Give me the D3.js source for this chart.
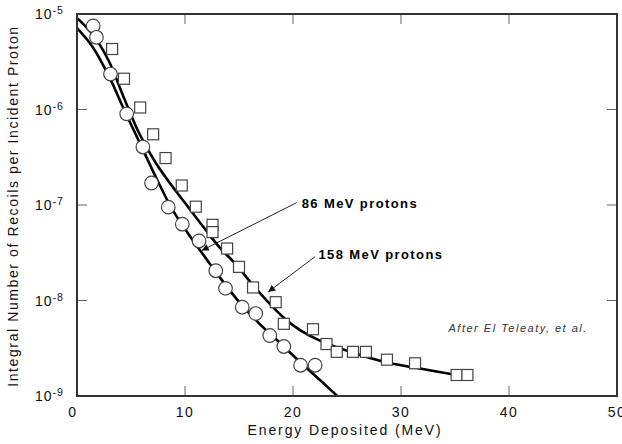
<!DOCTYPE html>
<html><head><meta charset="utf-8">
<script src="https://cdn.jsdelivr.net/npm/d3@7"></script>
<style>body{margin:0;background:#fff} text{font-family:"Liberation Sans",Arial,sans-serif}</style>
</head><body><svg id="c" width="622" height="444"></svg>
<script>
// ---- data ----
const xTicks = [0, 10, 20, 30, 40, 50];
const yTickExps = [-5, -6, -7, -8, -9];

// 86 MeV protons (circles)
const circE = [1.5, 1.8, 3.1, 4.6, 6.1, 6.9, 8.45, 9.75, 11.3, 12.85, 13.75, 15.3, 16.55, 17.85, 19.15, 20.7, 22.05];
const circN = [7.5e-6, 5.7e-6, 2.35e-6, 9.0e-7, 4.05e-7, 1.7e-7, 9.5e-8, 6.3e-8, 4.2e-8, 2.05e-8, 1.34e-8, 8.5e-9, 7.3e-9, 4.3e-9, 3.3e-9, 2.1e-9, 2.1e-9];

// 158 MeV protons (squares)
const sqE = [3.25, 4.35, 5.85, 7.05, 8.2, 9.7, 11.0, 12.55, 12.55, 13.9, 15.0, 16.3, 18.4, 19.15, 21.85, 23.1, 24.05, 25.55, 26.75, 28.7, 31.3, 35.15, 36.15];
const sqN = [4.3e-6, 2.1e-6, 1.05e-6, 5.5e-7, 3.1e-7, 1.6e-7, 9.6e-8, 6.2e-8, 5.2e-8, 3.5e-8, 2.25e-8, 1.37e-8, 9.6e-9, 5.7e-9, 5.0e-9, 3.5e-9, 2.9e-9, 2.9e-9, 2.9e-9, 2.4e-9, 2.2e-9, 1.66e-9, 1.66e-9];

// fitted curves
const c86E = [0, 1.4, 2.9, 4.35, 5.8, 7.3, 8.8, 10.3, 11.8, 13.2, 15.1, 16.9, 18.8, 20.65, 22.5, 24.1];
const c86N = [7.1e-6, 4.6e-6, 2.3e-6, 1.0e-6, 4.5e-7, 1.96e-7, 9.1e-8, 5.0e-8, 2.9e-8, 1.76e-8, 9.4e-9, 5.7e-9, 3.6e-9, 2.27e-9, 1.47e-9, 1.0e-9];
const c158E = [0, 1.4, 2.9, 4.35, 5.8, 7.3, 8.8, 10.3, 11.8, 13.2, 14.7, 16.2, 17.7, 19.15, 20.65, 22.5, 25.3, 28.3, 31.5, 35.15];
const c158N = [9.1e-6, 6.2e-6, 3.3e-6, 1.32e-6, 5.5e-7, 2.75e-7, 1.58e-7, 9.5e-8, 5.7e-8, 3.6e-8, 2.4e-8, 1.49e-8, 9.6e-9, 6.6e-9, 4.9e-9, 3.8e-9, 2.9e-9, 2.3e-9, 1.96e-9, 1.66e-9];

// annotations
const annoText = ["86 MeV protons", "158 MeV protons"];
const annoPos = [[20.8, 9.4e-8], [22.35, 2.7e-8]];
const annoFrom = [[20.35, 1.06e-7], [22.05, 2.88e-8]];
const annoTip = [[11.55, 3.34e-8], [17.7, 1.23e-8]];
const creditText = "After El Teleaty, et al.";
const creditPos = [34.4, 4.7e-9];
const xTitle = "Energy Deposited (MeV)";
const yTitle = "Integral Number of Recoils per Incident Proton";

// ---- drawing ----
const svg = d3.select("#c");
const x = d3.scaleLinear().domain([0, 50]).range([77, 617]);
const y = d3.scaleLog().domain([1e-9, 1e-5]).range([396, 14]);
const X0 = x(0), X1 = x(50), Y0 = y(1e-9), Y1 = y(1e-5);

svg.append("defs").append("clipPath").attr("id", "clip")
  .append("rect").attr("x", X0).attr("y", Y1).attr("width", X1 - X0).attr("height", Y0 - Y1);
const mk = svg.select("defs").append("marker").attr("id", "arr")
  .attr("viewBox", "0 0 10 10").attr("refX", 10).attr("refY", 5)
  .attr("markerWidth", 10).attr("markerHeight", 7).attr("markerUnits", "userSpaceOnUse")
  .attr("orient", "auto");
mk.append("path").attr("d", "M0,0 L10,5 L0,10 Z").attr("fill", "#111");

// ticks (inside, all four sides)
const tk = svg.append("g").attr("stroke", "#666").attr("stroke-width", 1);
xTicks.slice(1, -1).forEach(v => {
  tk.append("line").attr("x1", x(v)).attr("x2", x(v)).attr("y1", Y0).attr("y2", Y0 - 10);
  tk.append("line").attr("x1", x(v)).attr("x2", x(v)).attr("y1", Y1).attr("y2", Y1 + 10);
});
yTickExps.slice(1, -1).forEach(e => {
  const v = Math.pow(10, e);
  tk.append("line").attr("x1", X0).attr("x2", X0 + 10).attr("y1", y(v)).attr("y2", y(v));
  tk.append("line").attr("x1", X1).attr("x2", X1 - 10).attr("y1", y(v)).attr("y2", y(v));
});

// curves
const line = d3.line().x(d => x(d[0])).y(d => y(d[1])).curve(d3.curveCatmullRom.alpha(0.5));
const cg = svg.append("g").attr("clip-path", "url(#clip)");
cg.append("path").datum(c86E.map((e, i) => [e, c86N[i]])).attr("d", line)
  .attr("fill", "none").attr("stroke", "#000").attr("stroke-width", 2.6);
cg.append("path").datum(c158E.map((e, i) => [e, c158N[i]])).attr("d", line)
  .attr("fill", "none").attr("stroke", "#000").attr("stroke-width", 2.6);

// markers
svg.append("g").selectAll("rect").data(sqE.map((e, i) => [e, sqN[i]])).join("rect")
  .attr("x", d => x(d[0]) - 5.5).attr("y", d => y(d[1]) - 5.5)
  .attr("width", 11).attr("height", 11)
  .attr("fill", "#fff").attr("stroke", "#444").attr("stroke-width", 1.2);
svg.append("g").selectAll("circle").data(circE.map((e, i) => [e, circN[i]])).join("circle")
  .attr("cx", d => x(d[0])).attr("cy", d => y(d[1])).attr("r", 6.8)
  .attr("fill", "#fff").attr("stroke", "#444").attr("stroke-width", 1.2);

// frame
svg.append("rect").attr("x", X0).attr("y", Y1).attr("width", X1 - X0).attr("height", Y0 - Y1)
  .attr("fill", "none").attr("stroke", "#333").attr("stroke-width", 2);

// tick labels
svg.append("g").selectAll("text").data(xTicks).join("text")
  .attr("x", d => x(d) - (d === 0 ? 4 : 0)).attr("y", 417).attr("text-anchor", "middle")
  .attr("font-size", 14).attr("letter-spacing", 1.5).attr("fill", "#111").text(d => d);
const yl = svg.append("g").selectAll("text").data(yTickExps).join("text")
  .attr("x", 35).attr("y", d => y(Math.pow(10, d)) + 5)
  .attr("font-size", 14).attr("letter-spacing", 1).attr("fill", "#111");
yl.append("tspan").text("10");
yl.append("tspan").attr("dy", -5).attr("font-size", 10.5).text(d => String(d));

// axis titles
svg.append("text").attr("x", 345).attr("y", 435).attr("text-anchor", "middle")
  .attr("font-size", 14).attr("letter-spacing", 1.9).attr("fill", "#111").text(xTitle);
svg.append("text").attr("transform", `translate(18,206) rotate(-90)`)
  .attr("text-anchor", "middle").attr("font-size", 14).attr("letter-spacing", 1.6)
  .attr("fill", "#111").text(yTitle);

// annotations
annoText.forEach((t, i) => {
  svg.append("line").attr("x1", x(annoFrom[i][0])).attr("y1", y(annoFrom[i][1]))
    .attr("x2", x(annoTip[i][0])).attr("y2", y(annoTip[i][1]))
    .attr("stroke", "#222").attr("stroke-width", 1).attr("marker-end", "url(#arr)");
  svg.append("text").attr("x", x(annoPos[i][0])).attr("y", y(annoPos[i][1]))
    .attr("font-size", 13).attr("font-weight", "bold").attr("letter-spacing", 1.4)
    .attr("fill", "#000").text(t);
});
svg.append("text").attr("x", x(creditPos[0])).attr("y", y(creditPos[1]))
  .attr("font-size", 11).attr("font-style", "italic").attr("letter-spacing", 1.5)
  .attr("fill", "#333").text(creditText);
</script></body></html>
